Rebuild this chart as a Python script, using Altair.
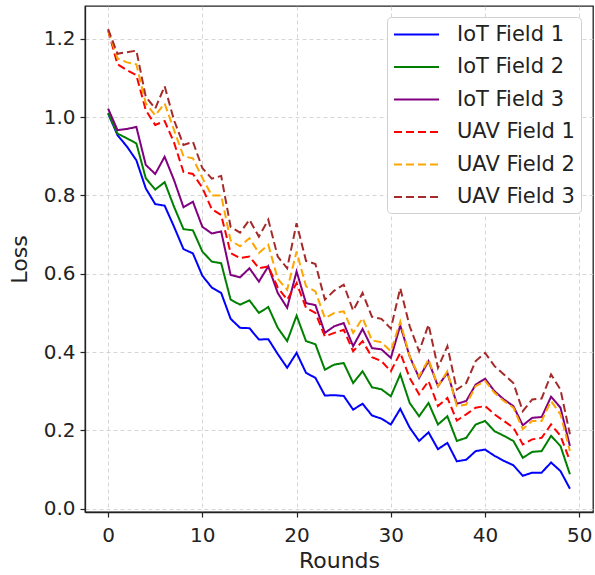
import altair as alt
import pandas as pd

rounds = list(range(50))

iot_field_1 = [1.01, 0.954, 0.925, 0.89, 0.818, 0.778, 0.774, 0.72, 0.663, 0.652,
               0.595, 0.565, 0.551, 0.485, 0.462, 0.461, 0.432, 0.433, 0.395, 0.36,
               0.398, 0.347, 0.334, 0.289, 0.29, 0.288, 0.253, 0.268, 0.238, 0.23,
               0.215, 0.255, 0.207, 0.173, 0.195, 0.152, 0.168, 0.121, 0.125, 0.147,
               0.151, 0.135, 0.122, 0.111, 0.084, 0.092, 0.092, 0.118, 0.096, 0.051]

iot_field_2 = [1.01, 0.958, 0.946, 0.933, 0.844, 0.815, 0.834, 0.771, 0.714, 0.711,
               0.657, 0.631, 0.627, 0.534, 0.521, 0.532, 0.5, 0.515, 0.462, 0.428,
               0.493, 0.428, 0.42, 0.355, 0.368, 0.372, 0.321, 0.351, 0.31, 0.305,
               0.287, 0.343, 0.27, 0.236, 0.27, 0.215, 0.236, 0.173, 0.181, 0.215,
               0.224, 0.198, 0.186, 0.173, 0.13, 0.145, 0.147, 0.186, 0.16, 0.088]

iot_field_3 = [1.022, 0.967, 0.97, 0.975, 0.878, 0.855, 0.899, 0.839, 0.77, 0.784,
               0.72, 0.703, 0.708, 0.597, 0.591, 0.614, 0.58, 0.619, 0.551, 0.513,
               0.606, 0.525, 0.52, 0.449, 0.466, 0.474, 0.415, 0.459, 0.41, 0.407,
               0.385, 0.468, 0.389, 0.334, 0.377, 0.313, 0.347, 0.268, 0.275, 0.317,
               0.332, 0.3, 0.279, 0.262, 0.213, 0.232, 0.234, 0.286, 0.258, 0.16]

uav_field_1 = [1.222, 1.135, 1.12, 1.107, 1.018, 0.98, 0.99, 0.935, 0.86, 0.855,
               0.82, 0.765, 0.75, 0.653, 0.64, 0.644, 0.614, 0.619, 0.565, 0.534,
               0.576, 0.513, 0.5, 0.44, 0.449, 0.457, 0.402, 0.428, 0.387, 0.377,
               0.351, 0.398, 0.334, 0.292, 0.326, 0.262, 0.283, 0.225, 0.241, 0.258,
               0.262, 0.241, 0.224, 0.207, 0.164, 0.177, 0.181, 0.215, 0.186, 0.122]

uav_field_2 = [1.222, 1.15, 1.14, 1.135, 1.035, 1.005, 1.035, 0.967, 0.9, 0.895,
               0.845, 0.8, 0.8, 0.685, 0.67, 0.691, 0.653, 0.674, 0.587, 0.559,
               0.657, 0.568, 0.555, 0.487, 0.5, 0.504, 0.449, 0.487, 0.43, 0.425,
               0.402, 0.478, 0.389, 0.338, 0.381, 0.313, 0.351, 0.262, 0.266, 0.313,
               0.326, 0.296, 0.275, 0.258, 0.203, 0.224, 0.224, 0.275, 0.241, 0.147]

uav_field_3 = [1.225, 1.162, 1.166, 1.17, 1.052, 1.022, 1.079, 0.992, 0.929, 0.937,
               0.87, 0.843, 0.85, 0.72, 0.705, 0.738, 0.695, 0.738, 0.644, 0.614,
               0.729, 0.633, 0.625, 0.534, 0.557, 0.572, 0.506, 0.551, 0.49, 0.485,
               0.46, 0.563, 0.466, 0.402, 0.47, 0.36, 0.415, 0.304, 0.321, 0.377,
               0.398, 0.364, 0.343, 0.321, 0.249, 0.279, 0.281, 0.343, 0.304, 0.19]

series_names = ["IoT Field 1", "IoT Field 2", "IoT Field 3",
                "UAV Field 1", "UAV Field 2", "UAV Field 3"]
series_values = [iot_field_1, iot_field_2, iot_field_3,
                 uav_field_1, uav_field_2, uav_field_3]
colors = ["#0000ff", "#008000", "#800080", "#ff0000", "#ffa500", "#a52a2a"]
dashes = [[1, 0], [1, 0], [1, 0], [8, 4], [8, 4], [8, 4]]

x_ticks = [0, 10, 20, 30, 40, 50]
y_ticks = [0.0, 0.2, 0.4, 0.6, 0.8, 1.0, 1.2]

rows = []
for name, vals in zip(series_names, series_values):
    for r, v in zip(rounds, vals):
        rows.append({"Rounds": r, "Loss": v, "Series": name})
df = pd.DataFrame(rows)

legend = alt.Legend(title=None, orient="none", legendX=302, legendY=11)

chart = alt.Chart(df).mark_line(strokeWidth=2).encode(
    x=alt.X("Rounds:Q",
            scale=alt.Scale(domain=[-2.45, 51.45], nice=False, zero=False),
            axis=alt.Axis(values=x_ticks, title="Rounds", format="d")),
    y=alt.Y("Loss:Q",
            scale=alt.Scale(domain=[-0.0085, 1.284], nice=False, zero=False),
            axis=alt.Axis(values=y_ticks, title="Loss", format=".1f")),
    color=alt.Color("Series:N",
                    scale=alt.Scale(domain=series_names, range=colors),
                    legend=legend),
    strokeDash=alt.StrokeDash("Series:N",
                              scale=alt.Scale(domain=series_names, range=dashes),
                              legend=legend),
    order=alt.Order("Rounds:Q"),
).properties(
    width=508,
    height=506,
    autosize=alt.AutoSizeParams(type="none"),
    padding={"left": 85, "top": 6, "right": 2, "bottom": 63},
).configure_view(
    stroke="#222222", strokeWidth=1.3
).configure_axis(
    grid=True,
    gridColor="#cccccc",
    gridDash=[4, 3],
    gridWidth=0.8,
    domainColor="#222222",
    domainWidth=1.3,
    tickColor="#222222",
    tickSize=5,
    tickWidth=1.2,
    labelFont="DejaVu Sans",
    labelFontSize=20,
    labelColor="#222222",
    titleFont="DejaVu Sans",
    titleFontSize=22,
    titleFontWeight="normal",
    titleColor="#222222",
).configure_axisX(
    labelPadding=8,
    titlePadding=5,
).configure_axisY(
    labelPadding=5,
    titlePadding=12,
).configure_legend(
    labelFont="DejaVu Sans",
    labelFontSize=21,
    labelColor="#222222",
    symbolType="M-1,0L3.29,0",
    symbolSize=441,
    symbolStrokeWidth=2,
    rowPadding=10.5,
    labelOffset=41,
    padding=6,
    strokeColor="#d0d0d0",
    fillColor="white",
    cornerRadius=4,
)

chart.save("out.html", embed_options={"renderer": "svg", "actions": False})
